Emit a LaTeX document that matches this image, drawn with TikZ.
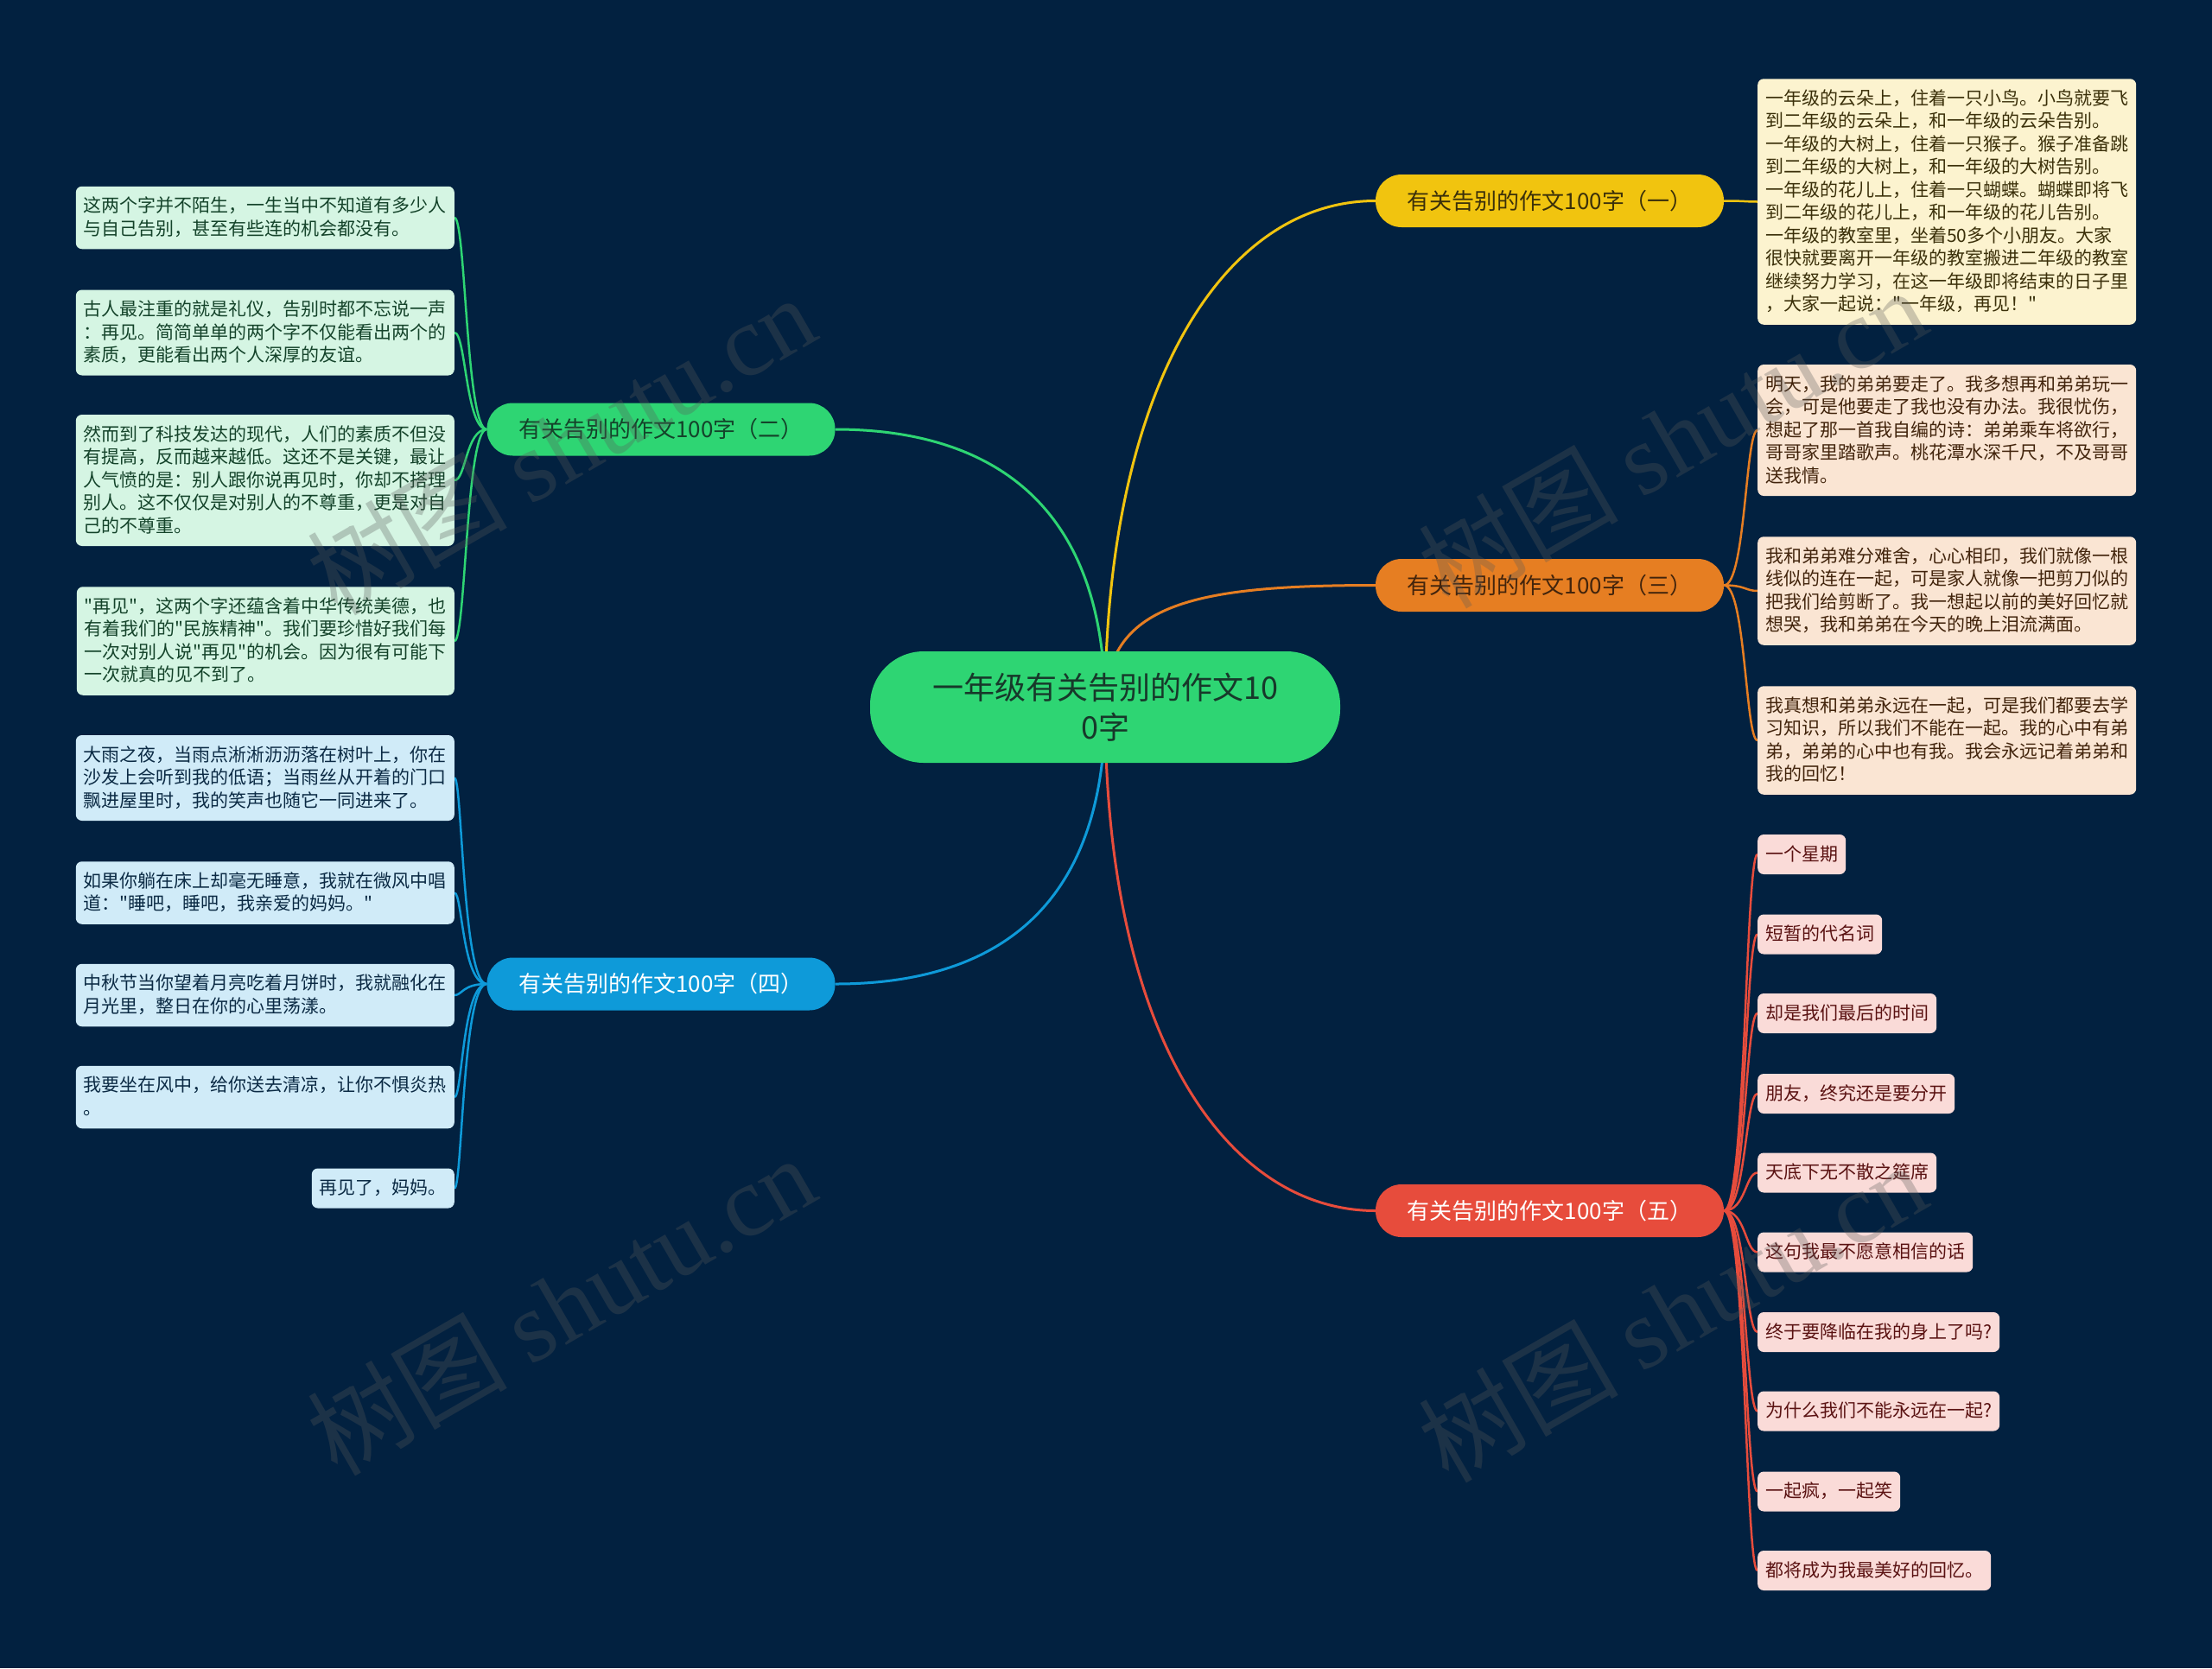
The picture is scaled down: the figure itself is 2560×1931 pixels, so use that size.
\documentclass[tikz,border=0pt]{standalone}
\usepackage{fontspec}
\setmainfont{Noto Sans CJK SC}[Ligatures=TeXOff]
\newfontfamily\wmserif{Liberation Serif}
\usetikzlibrary{backgrounds}
\definecolor{bgc}{HTML}{022140}
\definecolor{cgreen}{HTML}{2ED573}
\definecolor{cyellow}{HTML}{F1C40F}
\definecolor{corange}{HTML}{E67E22}
\definecolor{cblue}{HTML}{0E9AD9}
\definecolor{cred}{HTML}{E74C3C}
\definecolor{lgreen}{HTML}{D5F5E3}
\definecolor{lyellow}{HTML}{FCF3CF}
\definecolor{lorange}{HTML}{FAE5D3}
\definecolor{lblue}{HTML}{D0EBF8}
\definecolor{lred}{HTML}{FADBD8}
\definecolor{tgreen}{HTML}{14432A}
\definecolor{tyellow}{HTML}{3B300A}
\definecolor{torange}{HTML}{42240C}
\definecolor{tblue}{HTML}{0B2A44}
\definecolor{tred}{HTML}{5A1212}
\definecolor{tcenter}{HTML}{17382A}
\definecolor{wmc}{HTML}{5A5A5A}
\newcommand\lstr{\rule[-4.5pt]{0pt}{23pt}}
\newcommand\nl{\\\lstr}
\tikzset{
  leaf/.style={rounded corners=7pt, inner xsep=9pt, inner ysep=11.5pt, align=left,
    font=\fontsize{21}{26.5}\selectfont},
  gleaf/.style={leaf, fill=lgreen, text=tgreen, minimum width=436pt, anchor=east},
  bleaf/.style={leaf, fill=lblue, text=tblue, minimum width=436pt, anchor=east},
  bleafs/.style={leaf, fill=lblue, text=tblue, anchor=east},
  yleaf/.style={leaf, fill=lyellow, text=tyellow, minimum width=436pt, anchor=west},
  oleaf/.style={leaf, fill=lorange, text=torange, minimum width=436pt, anchor=west},
  rleaf/.style={leaf, fill=lred, text=tred, anchor=west},
  branch/.style={rounded corners=30pt, minimum width=403pt, minimum height=61pt,
    inner sep=0pt, font=\fontsize{26}{30}\selectfont},
  mainline/.style={line width=3pt},
  subline/.style={line width=2.5pt},
  wm/.style={text=wmc, opacity=0.3, rotate=30, font=\fontsize{116}{116}\selectfont},
}
\begin{document}
\begin{tikzpicture}[x=1pt,y=-1pt]
\useasboundingbox (0,0) rectangle (2560,1931);

% center
\node[fill=cgreen, text=tcenter, rounded corners=62pt, minimum width=544pt, minimum height=129pt,
  align=center, font=\fontsize{36}{46}\selectfont] (c) at (1279,818.5)
  {一年级有关告别的作文10\\0字};

% branches
\node[branch, fill=cyellow, text=tyellow] (b1) at (1793.5,232.5) {有关告别的作文100字（一）};
\node[branch, fill=cgreen, text=tgreen] (b2) at (765,497) {有关告别的作文100字（二）};
\node[branch, fill=corange, text=torange] (b3) at (1793.5,677.5) {有关告别的作文100字（三）};
\node[branch, fill=cblue, text=white] (b4) at (765,1139) {有关告别的作文100字（四）};
\node[branch, fill=cred, text=white] (b5) at (1793.5,1401.5) {有关告别的作文100字（五）};

% green leaves
\node[gleaf] (g1) at (526,252) {\lstr 这两个字并不陌生，一生当中不知道有多少人\nl 与自己告别，甚至有些连的机会都没有。};
\node[gleaf] (g2) at (526,385) {\lstr 古人最注重的就是礼仪，告别时都不忘说一声\nl ：再见。简简单单的两个字不仅能看出两个的\nl 素质，更能看出两个人深厚的友谊。};
\node[gleaf] (g3) at (526,556) {\lstr 然而到了科技发达的现代，人们的素质不但没\nl 有提高，反而越来越低。这还不是关键，最让\nl 人气愤的是：别人跟你说再见时，你却不搭理\nl 别人。这不仅仅是对别人的不尊重，更是对自\nl 己的不尊重。};
\node[gleaf] (g4) at (526,742) {\lstr "再见"，这两个字还蕴含着中华传统美德，也\nl 有着我们的"民族精神"。我们要珍惜好我们每\nl 一次对别人说"再见"的机会。因为很有可能下\nl 一次就真的见不到了。};

% blue leaves
\node[bleaf] (u1) at (526,900.5) {\lstr 大雨之夜，当雨点淅淅沥沥落在树叶上，你在\nl 沙发上会听到我的低语；当雨丝从开着的门口\nl 飘进屋里时，我的笑声也随它一同进来了。};
\node[bleaf] (u2) at (526,1033.5) {\lstr 如果你躺在床上却毫无睡意，我就在微风中唱\nl 道："睡吧，睡吧，我亲爱的妈妈。"};
\node[bleaf] (u3) at (526,1152) {\lstr 中秋节当你望着月亮吃着月饼时，我就融化在\nl 月光里，整日在你的心里荡漾。};
\node[bleaf] (u4) at (526,1270) {\lstr 我要坐在风中，给你送去清凉，让你不惧炎热\nl 。};
\node[bleafs] (u5) at (526,1375.5) {\lstr 再见了，妈妈。};

% yellow leaf
\node[yleaf] (y1) at (2034,233.5) {\lstr 一年级的云朵上，住着一只小鸟。小鸟就要飞\nl 到二年级的云朵上，和一年级的云朵告别。\nl 一年级的大树上，住着一只猴子。猴子准备跳\nl 到二年级的大树上，和一年级的大树告别。\nl 一年级的花儿上，住着一只蝴蝶。蝴蝶即将飞\nl 到二年级的花儿上，和一年级的花儿告别。\nl 一年级的教室里，坐着50多个小朋友。大家\nl 很快就要离开一年级的教室搬进二年级的教室\nl 继续努力学习，在这一年级即将结束的日子里\nl ，大家一起说："一年级，再见！"};

% orange leaves
\node[oleaf] (o1) at (2034,498) {\lstr 明天，我的弟弟要走了。我多想再和弟弟玩一\nl 会，可是他要走了我也没有办法。我很忧伤，\nl 想起了那一首我自编的诗：弟弟乘车将欲行，\nl 哥哥家里踏歌声。桃花潭水深千尺，不及哥哥\nl 送我情。};
\node[oleaf] (o2) at (2034,684) {\lstr 我和弟弟难分难舍，心心相印，我们就像一根\nl 线似的连在一起，可是家人就像一把剪刀似的\nl 把我们给剪断了。我一想起以前的美好回忆就\nl 想哭，我和弟弟在今天的晚上泪流满面。};
\node[oleaf] (o3) at (2034,857) {\lstr 我真想和弟弟永远在一起，可是我们都要去学\nl 习知识，所以我们不能在一起。我的心中有弟\nl 弟，弟弟的心中也有我。我会永远记着弟弟和\nl 我的回忆！};

% red leaves
\node[rleaf] (r1) at (2034,989) {\lstr 一个星期};
\node[rleaf] (r2) at (2034,1081.5) {\lstr 短暂的代名词};
\node[rleaf] (r3) at (2034,1173) {\lstr 却是我们最后的时间};
\node[rleaf] (r4) at (2034,1266) {\lstr 朋友，终究还是要分开};
\node[rleaf] (r5) at (2034,1357.5) {\lstr 天底下无不散之筵席};
\node[rleaf] (r6) at (2034,1449.5) {\lstr 这句我最不愿意相信的话};
\node[rleaf] (r7) at (2034,1542) {\lstr 终于要降临在我的身上了吗?};
\node[rleaf] (r8) at (2034,1633.5) {\lstr 为什么我们不能永远在一起?};
\node[rleaf] (r9) at (2034,1726.5) {\lstr 一起疯，一起笑};
\node[rleaf] (r10) at (2034,1818) {\lstr 都将成为我最美好的回忆。};

\begin{scope}[on background layer]
\fill[bgc] (0,0) rectangle (2560,1931);
% main connectors
\draw[mainline, cyellow] (c.center) .. controls +(0,-359) and +(-182,0) .. (b1.west);
\draw[mainline, cgreen] (c.center) .. controls +(0,-259) and +(153,0) .. (b2.east);
\draw[mainline, corange] (c.center) .. controls +(0,-119) and +(-212,0) .. (b3.west);
\draw[mainline, cblue] (c.center) .. controls +(0,261) and +(153,0) .. (b4.east);
\draw[mainline, cred] (c.center) .. controls +(0,381) and +(-172,0) .. (b5.west);
% leaf connectors
\foreach \n in {g1,g2,g3,g4}
  \draw[subline, cgreen] (b2.west) .. controls +(-24,0) and +(13,0) .. (\n.east);
\foreach \n in {u1,u2,u3,u4,u5}
  \draw[subline, cblue] (b4.west) .. controls +(-28,0) and +(9,0) .. (\n.east);
\draw[subline, cyellow] (b1.east) .. controls +(25,0) and +(-14,0) .. (y1.west);
\foreach \n in {o1,o2,o3}
  \draw[subline, corange] (b3.east) .. controls +(25,0) and +(-14,0) .. (\n.west);
\foreach \n in {r1,r2,r3,r4,r5,r6,r7,r8,r9,r10}
  \draw[subline, cred] (b5.east) .. controls +(25,0) and +(-14,0) .. (\n.west);
\end{scope}

% watermarks
\node[wm] (w1) at (649,514) {树图 {\wmserif shutu.cn}};
\node[wm] (w2) at (1935,506) {树图 {\wmserif shutu.cn}};
\node[wm] (w3) at (649,1510) {树图 {\wmserif shutu.cn}};
\node[wm] (w4) at (1935,1518) {树图 {\wmserif shutu.cn}};
\end{tikzpicture}
\end{document}
